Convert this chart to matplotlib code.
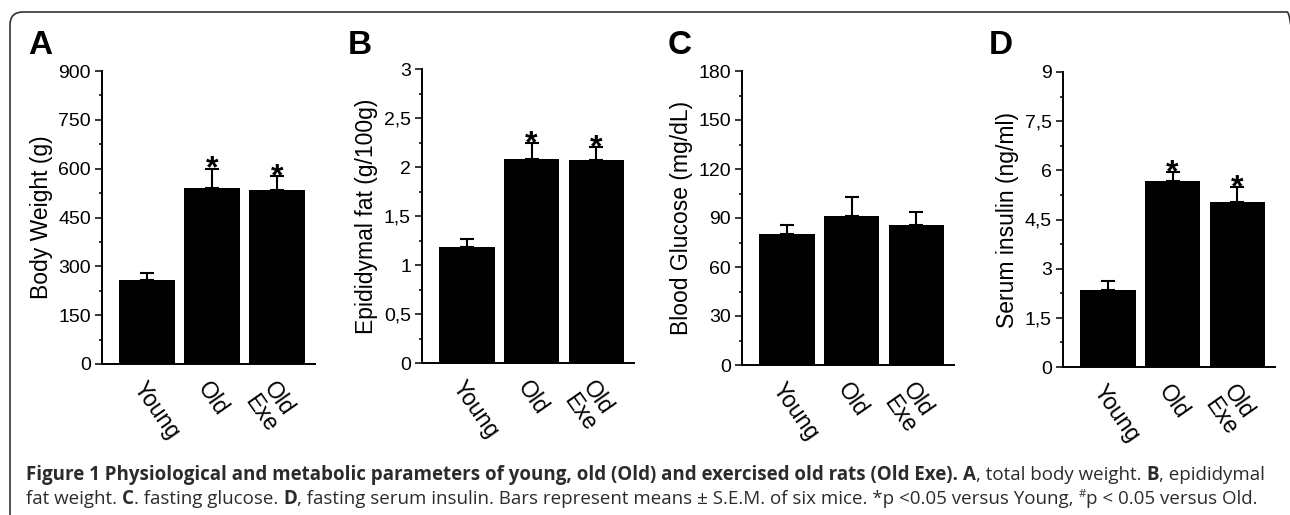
import matplotlib
matplotlib.use('Agg')
import matplotlib.pyplot as plt
from matplotlib.ticker import MultipleLocator, FixedLocator
from matplotlib.patches import FancyBboxPatch
from matplotlib.transforms import IdentityTransform

# groups
groups = ['Young', 'Old', 'Old\nExe']

# A - body weight
body_weight = [258, 541, 533]
body_weight_sem = [20, 59, 45]
# B - epididymal fat
epi_fat = [1.18, 2.085, 2.075]
epi_fat_sem = [0.09, 0.155, 0.125]
# C - blood glucose
glucose = [80.4, 91.4, 85.9]
glucose_sem = [5.3, 11.6, 8.0]
# D - serum insulin
insulin = [2.36, 5.67, 5.04]
insulin_sem = [0.25, 0.28, 0.44]

# significance vs Young
stars_A = [False, True, True]
stars_B = [False, True, True]
stars_C = [False, False, False]
stars_D = [False, True, True]

ticks_A = [0, 150, 300, 450, 600, 750, 900]
ticks_B = [0, 0.5, 1, 1.5, 2, 2.5, 3]
ticks_C = [0, 30, 60, 90, 120, 150, 180]
ticks_D = [0, 1.5, 3, 4.5, 6, 7.5, 9]

W, H = 1290, 515
plt.rcParams['font.family'] = ['Liberation Sans', 'DejaVu Sans']
fig = plt.figure(figsize=(W / 100, H / 100), dpi=100)

# rounded frame around the whole figure (pixel coords, origin bottom-left)
frame = FancyBboxPatch((10, -30), 1290, H - 12 + 30, transform=IdentityTransform(),
                       boxstyle='round,pad=0,rounding_size=13',
                       fill=False, edgecolor='#333333', linewidth=1.2)
fig.patches.append(frame)


def fmt(v):
    if float(v).is_integer():
        return str(int(v))
    return str(v).replace('.', ',')


def panel(letter, x0, x1, ytop, ybot, vals, sems, stars, ticks, ylabel):
    ax = fig.add_axes([x0 / W, 1 - ybot / H, (x1 - x0) / W, (ybot - ytop) / H])
    pos = list(range(len(vals)))
    ax.bar(pos, vals, width=0.86, color='black', zorder=2)
    ax.errorbar(pos, vals, yerr=[[0] * len(vals), sems], fmt='none', ecolor='black',
                elinewidth=1.5, capsize=5, capthick=1.5, zorder=1)
    for p, v, s, st in zip(pos, vals, sems, stars):
        if st:
            ax.annotate('*', (p, v + s), xytext=(0, -6.5), textcoords='offset points',
                        ha='center', va='baseline', fontsize=23, fontweight='bold')
    ax.set_xlim(-0.69, 2.58)
    ax.set_ylim(0, ticks[-1])
    ax.yaxis.set_major_locator(FixedLocator(ticks))
    ax.yaxis.set_minor_locator(MultipleLocator((ticks[1] - ticks[0]) / 2))
    ax.set_yticklabels([fmt(t) for t in ticks], fontsize=14)
    ax.set_xticks(pos)
    ax.set_xticklabels(groups, rotation=-55, rotation_mode='anchor', ha='left', va='top',
                       fontsize=16.5, linespacing=1.0)
    ax.tick_params(axis='x', length=0, pad=10)
    ax.tick_params(axis='y', which='major', length=5, width=1.1, pad=3)
    ax.tick_params(axis='y', which='minor', length=2.5, width=1.1)
    ax.spines['top'].set_visible(False)
    ax.spines['right'].set_visible(False)
    ax.spines['left'].set_linewidth(1.4)
    ax.spines['bottom'].set_linewidth(1.4)
    ax.set_ylabel(ylabel, fontsize=16.5, labelpad=4)
    fig.text((x0 - 74) / W, 1 - 30 / H, letter, fontsize=24, fontweight='bold',
             ha='left', va='top')
    return ax


panel('A', 102, 315, 71, 364, body_weight, body_weight_sem, stars_A, ticks_A, 'Body Weight (g)')
panel('B', 422, 634, 69, 363, epi_fat, epi_fat_sem, stars_B, ticks_B, 'Epididymal fat (g/100g)')
panel('C', 742, 954, 71, 365, glucose, glucose_sem, stars_C, ticks_C, 'Blood Glucose (mg/dL)')
panel('D', 1063, 1275, 72, 367, insulin, insulin_sem, stars_D, ticks_D, 'Serum insulin (ng/ml)')

# caption, drawn run by run so bold and regular parts can mix
line1 = [('Figure 1 Physiological and metabolic parameters of young, old (Old) and exercised old rats (Old Exe).', 'bold'),
         (' ', 'normal'), ('A', 'bold'), (', total body weight. ', 'normal'), ('B', 'bold'),
         (', epididymal', 'normal')]
line2 = [('fat weight. ', 'normal'), ('C', 'bold'), ('. fasting glucose. ', 'normal'), ('D', 'bold'),
         (', fasting serum insulin. Bars represent means \u00b1 S.E.M. of six mice. *p <0.05 versus Young, ', 'normal'),
         ('#', 'sup'), ('p < 0.05 versus Old.', 'normal')]

cap_family = ['Open Sans', 'DejaVu Sans']
cap_color = '#2b2b2b'
renderer = fig.canvas.get_renderer()


def run_width(s, weight, size):
    t1 = fig.text(0, 0, '|' + s + '|', fontsize=size, fontweight=weight, family=cap_family)
    t2 = fig.text(0, 0, '||', fontsize=size, fontweight=weight, family=cap_family)
    w = t1.get_window_extent(renderer).width - t2.get_window_extent(renderer).width
    t1.remove()
    t2.remove()
    return w


def line_width(pieces, size):
    total = 0
    for s, kind in pieces:
        if kind == 'sup':
            total += run_width(s, 'normal', size * 0.6)
        else:
            total += run_width(s, kind, size)
    return total


base = 10
cap_size = base * 1244 / line_width(line1, base)


def draw_line(pieces, x, y):
    for s, kind in pieces:
        if kind == 'sup':
            fig.text(x / W, 1 - (y - 7) / H, s, fontsize=cap_size * 0.6, family=cap_family,
                     color=cap_color, va='baseline')
            x += run_width(s, 'normal', cap_size * 0.6)
        else:
            fig.text(x / W, 1 - y / H, s, fontsize=cap_size, fontweight=kind, family=cap_family,
                     color=cap_color, va='baseline')
            x += run_width(s, kind, cap_size)


draw_line(line1, 26, 480)
draw_line(line2, 26, 504)

fig.savefig('out.png', dpi=100)
